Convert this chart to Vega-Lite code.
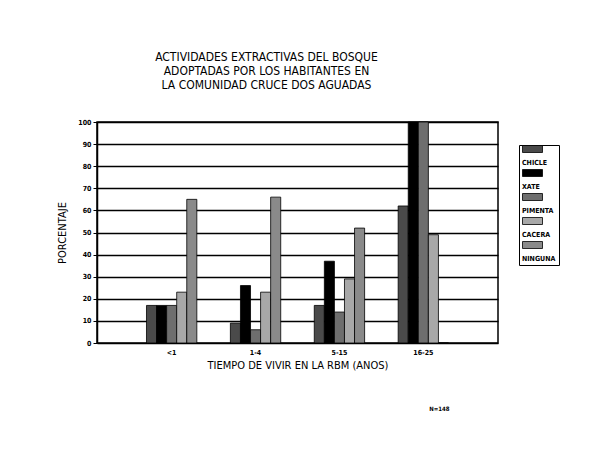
{
  "$schema": "https://vega.github.io/schema/vega-lite/v6.json",
  "autosize": {"type": "none"},
  "padding": {"left": 97, "top": 122, "right": 106, "bottom": 119},
  "width": 401,
  "height": 221,
  "background": "white",
  "title": {
    "text": ["ACTIVIDADES EXTRACTIVAS DEL BOSQUE", "ADOPTADAS POR LOS HABITANTES EN", "LA COMUNIDAD CRUCE DOS AGUADAS"],
    "font": "Liberation Sans Narrow, DejaVu Sans Condensed, Liberation Sans",
    "fontSize": 12,
    "fontWeight": "normal",
    "color": "black",
    "lineHeight": 14,
    "anchor": "middle",
    "dx": -31,
    "offset": 26
  },
  "config": {
    "view": {"stroke": "black", "strokeWidth": 1.5},
    "font": "Liberation Sans Narrow, DejaVu Sans Condensed, Liberation Sans"
  },
  "encoding": {
    "x": {
      "field": "grupo",
      "type": "nominal",
      "sort": ["<1", "1-4", "5-15", "16-25"],
      "scale": {"paddingInner": 0.4, "paddingOuter": 0.59},
      "axis": {
        "title": "TIEMPO DE VIVIR EN LA RBM (ANOS)",
        "titleFontSize": 11,
        "titleFontWeight": "normal",
        "titleColor": "black",
        "titlePadding": 4,
        "labelAngle": 0,
        "labelFontSize": 7,
        "labelFontWeight": "bold",
        "labelColor": "black",
        "labelPadding": 5,
        "ticks": false,
        "domain": false
      }
    },
    "y": {
      "field": "porcentaje",
      "type": "quantitative",
      "scale": {"domain": [0, 100], "nice": false},
      "axis": {
        "title": "PORCENTAJE",
        "values": [0, 10, 20, 30, 40, 50, 60, 70, 80, 90, 100],
        "titleFontSize": 11,
        "titleFontWeight": "normal",
        "titleColor": "black",
        "titlePadding": 10,
        "labelOverlap": false,
        "labelFontSize": 7,
        "labelFontWeight": "bold",
        "labelColor": "black",
        "labelPadding": 2,
        "tickColor": "black",
        "tickSize": 4,
        "domainColor": "black",
        "domainWidth": 1.5,
        "grid": true,
        "gridColor": "black",
        "gridWidth": 1.5,
        "gridOpacity": 1
      }
    }
  },
  "layer": [
    {
      "data": {
        "values": [
          {"grupo": "<1", "actividad": "CHICLE", "porcentaje": 17},
          {"grupo": "<1", "actividad": "XATE", "porcentaje": 17},
          {"grupo": "<1", "actividad": "PIMENTA", "porcentaje": 17},
          {"grupo": "<1", "actividad": "CACERA", "porcentaje": 23},
          {"grupo": "<1", "actividad": "NINGUNA", "porcentaje": 65},
          {"grupo": "1-4", "actividad": "CHICLE", "porcentaje": 9},
          {"grupo": "1-4", "actividad": "XATE", "porcentaje": 26},
          {"grupo": "1-4", "actividad": "PIMENTA", "porcentaje": 6},
          {"grupo": "1-4", "actividad": "CACERA", "porcentaje": 23},
          {"grupo": "1-4", "actividad": "NINGUNA", "porcentaje": 66},
          {"grupo": "5-15", "actividad": "CHICLE", "porcentaje": 17},
          {"grupo": "5-15", "actividad": "XATE", "porcentaje": 37},
          {"grupo": "5-15", "actividad": "PIMENTA", "porcentaje": 14},
          {"grupo": "5-15", "actividad": "CACERA", "porcentaje": 29},
          {"grupo": "5-15", "actividad": "NINGUNA", "porcentaje": 52},
          {"grupo": "16-25", "actividad": "CHICLE", "porcentaje": 62},
          {"grupo": "16-25", "actividad": "XATE", "porcentaje": 100},
          {"grupo": "16-25", "actividad": "PIMENTA", "porcentaje": 100},
          {"grupo": "16-25", "actividad": "CACERA", "porcentaje": 49},
          {"grupo": "16-25", "actividad": "NINGUNA", "porcentaje": 0}
        ]
      },
      "mark": {"type": "bar", "stroke": "black", "strokeWidth": 0.8, "opacity": 1},
      "encoding": {
        "xOffset": {
          "field": "actividad",
          "type": "nominal",
          "sort": ["CHICLE", "XATE", "PIMENTA", "CACERA", "NINGUNA"],
          "scale": {"paddingInner": 0, "paddingOuter": 0}
        },
        "fill": {
          "field": "actividad",
          "type": "nominal",
          "sort": ["CHICLE", "XATE", "PIMENTA", "CACERA", "NINGUNA"],
          "scale": {
            "domain": ["CHICLE", "XATE", "PIMENTA", "CACERA", "NINGUNA"],
            "range": ["#4a4a4a", "#000000", "#6e6e6e", "#a8a8a8", "#8a8a8a"]
          },
          "legend": {
            "title": null,
            "orient": "none",
            "legendX": 422,
            "legendY": 23,
            "strokeColor": "black",
            "padding": 3,
            "symbolType": "M-1,-1.3H1V-0.6H-1Z",
            "symbolSize": 400,
            "symbolStrokeColor": "black",
            "symbolStrokeWidth": 0.8,
            "symbolOpacity": 1,
            "labelBaseline": "top",
            "labelAlign": "left",
            "labelOffset": -21,
            "labelFontSize": 7,
            "labelFontWeight": "bold",
            "labelColor": "black",
            "rowPadding": 1
          }
        }
      }
    },
    {
      "data": {"values": [{"grupo": "16-25", "porcentaje": -30, "texto": "N=148"}]},
      "mark": {"type": "text", "fontSize": 6, "fontWeight": "bold", "color": "black", "dx": 16},
      "encoding": {
        "text": {"field": "texto"}
      }
    }
  ]
}
